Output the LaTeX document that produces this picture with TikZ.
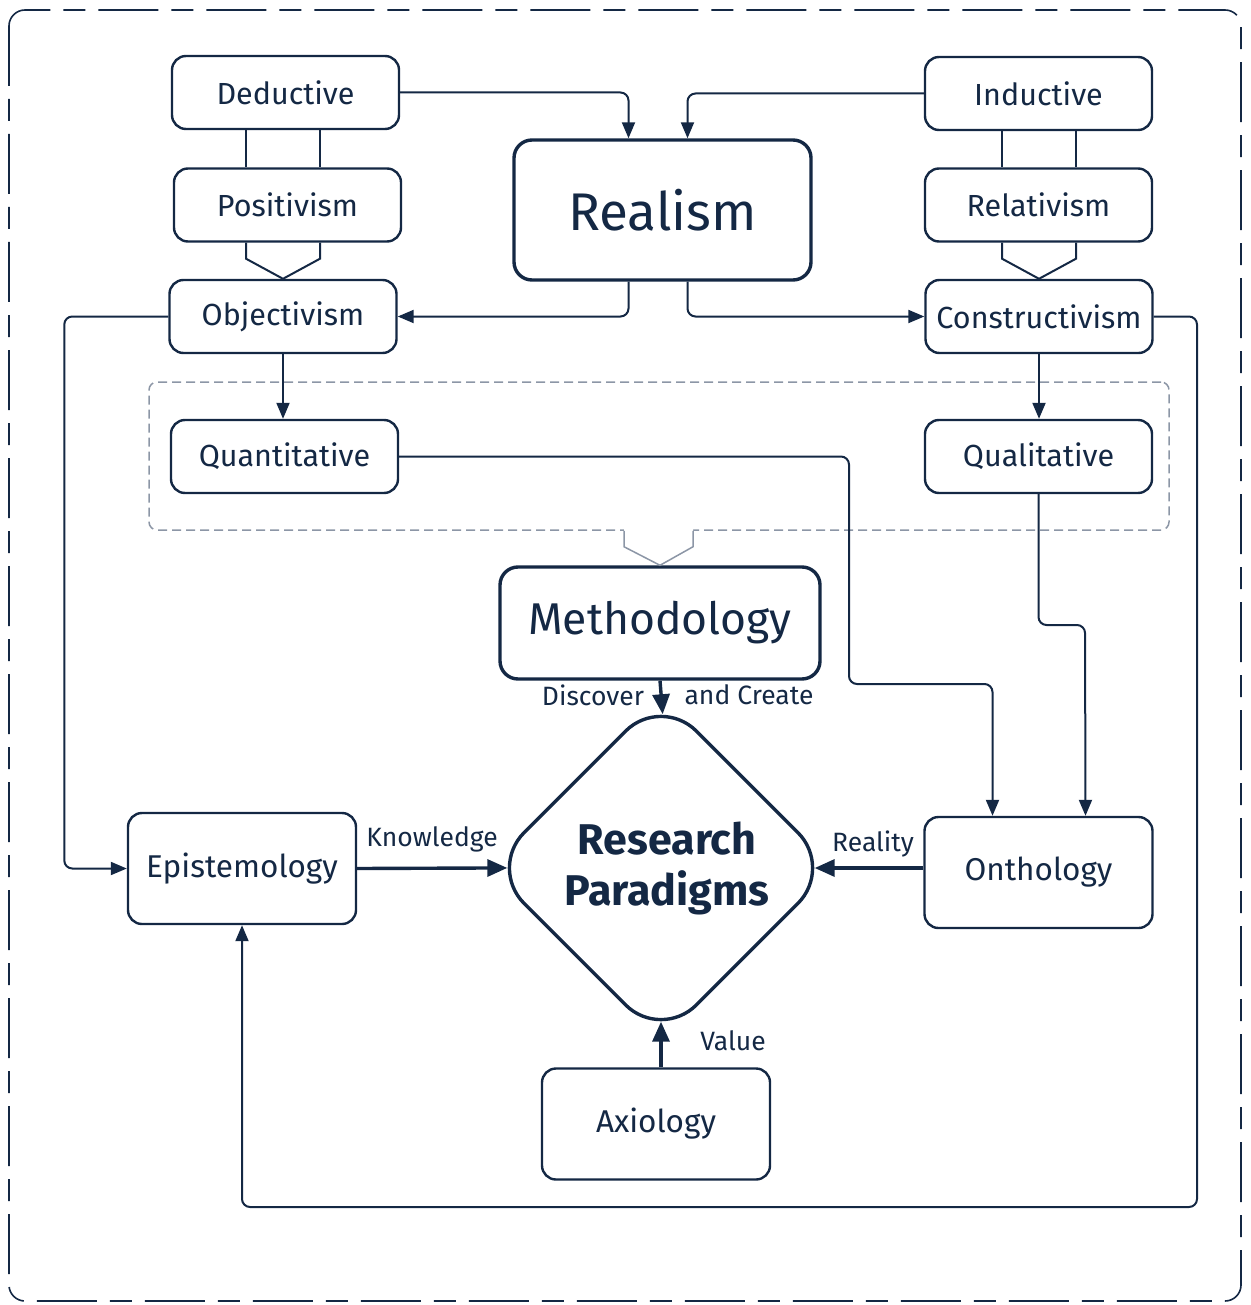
\documentclass[tikz,border=0pt]{standalone}
\usepackage{fontspec}
\setmainfont{Fira Sans}
\newfontfamily\medfont{Fira Sans}
\usetikzlibrary{arrows.meta,calc,shapes.geometric}
\definecolor{navy}{RGB}{20,40,68}
\definecolor{dashgrey}{RGB}{140,150,166}
\begin{document}
\begin{tikzpicture}[x=1pt,y=-1pt,
  box/.style={draw=navy, line width=2.4pt, rounded corners=14pt, fill=white,
    minimum width=227pt, minimum height=73pt, inner sep=0pt, text=navy,
    font=\fontsize{30.5}{36}\selectfont},
  bigbox/.style={box, line width=3.4pt, rounded corners=18pt},
  midbox/.style={box, minimum width=228pt, minimum height=111pt,
    font=\medfont\fontsize{31.5}{38}\selectfont},
  lbl/.style={text=navy, inner sep=0pt, font=\fontsize{26.5}{32}\selectfont},
  conn/.style={draw=navy, line width=2pt, rounded corners=8pt,
    -{Triangle[length=16pt,width=13pt]}},
  strong/.style={draw=navy, line width=3.4pt, shorten >=-21pt,
    -{Triangle[length=20pt,width=17pt]}},
  plain/.style={draw=navy, line width=2pt, line join=miter},
]
\useasboundingbox (0,0) rectangle (1250,1305);

% outer dashed frame
\draw[navy, line width=1.6pt, dash pattern=on 60pt off 13pt on 22pt off 13pt,
  rounded corners=16pt] (9,10) rectangle (1241,1301);

% group of the two approaches
\node[draw=dashgrey, line width=1.5pt, dash pattern=on 9pt off 5pt,
  rounded corners=8pt, minimum width=1020pt, minimum height=148pt,
  inner sep=0pt] (grp) at (659,456) {};

% nodes
\node[box] (dedu) at (285.5,92.5) {Deductive};
\node[box] (posi) at (287.5,205) {Positivism};
\node[box] (obje) at (283,316.5) {Objectivism};
\node[box] (indu) at (1038.5,93.5) {Inductive};
\node[box] (rela) at (1038.5,205) {Relativism};
\node[box] (cons) at (1039,316.5) {Constructivism};
\node[box] (quan) at (284.5,456.5) {Quantitative};
\node[box] (qual) at (1038.5,456.5) {Qualitative};
\node[bigbox, minimum width=297pt, minimum height=140pt,
  font=\medfont\fontsize{53}{60}\selectfont] (real) at (662.5,210) {Realism};
\node[bigbox, minimum width=320pt, minimum height=112pt,
  font=\medfont\fontsize{44.5}{52}\selectfont] (meth) at (660,623) {Methodology};
\node[midbox] (epis) at (242,868.5) {Epistemology};
\node[midbox] (onth) at (1038.5,872.5) {Onthology};
\node[midbox] (axio) at (656,1124) {Axiology};
\node[diamond, aspect=1, draw=navy, line width=3.4pt, rounded corners=50pt,
  minimum width=346pt, minimum height=346pt, inner sep=0pt, align=center,
  text=navy, font=\medfont\bfseries\fontsize{43}{50}\selectfont]
  (rp) at (661,868) {\hspace*{12pt}Research\\[1pt]\hspace*{12pt}Paradigms};

% paired links
\draw[plain] ($(dedu.south -| obje.north)+(-37,0)$) -- ($(posi.north -| obje.north)+(-37,0)$);
\draw[plain] ($(dedu.south -| obje.north)+(37,0)$) -- ($(posi.north -| obje.north)+(37,0)$);
\draw[plain] ($(indu.south -| cons.north)+(-37,0)$) -- ($(rela.north -| cons.north)+(-37,0)$);
\draw[plain] ($(indu.south -| cons.north)+(37,0)$) -- ($(rela.north -| cons.north)+(37,0)$);

% open chevrons
\draw[plain] ($(posi.south -| obje.north)+(-37,0)$) -- ++(0,16) -- (obje.north)
  -- ($(posi.south -| obje.north)+(37,16)$) -- ++(0,-16);
\draw[plain] ($(rela.south -| cons.north)+(-37,0)$) -- ++(0,16) -- (cons.north)
  -- ($(rela.south -| cons.north)+(37,16)$) -- ++(0,-16);
\fill[white] ($(grp.south)+(-35,-2)$) -- ++(0,18) -- (meth.north)
  -- ($(grp.south)+(34,16)$) -- ++(0,-18) -- cycle;
\draw[dashgrey, line width=1.5pt] ($(grp.south)+(-35,0)$) -- ++(0,16) -- (meth.north)
  -- ($(grp.south)+(34,16)$) -- ++(0,-16);

% connectors
\draw[conn] (dedu.east) -| ($(real.north)+(-34,0)$);
\draw[conn] (indu.west) -| ($(real.north)+(25,0)$);
\draw[conn] ($(real.south)+(-34,0)$) |- (obje.east);
\draw[conn] ($(real.south)+(25,0)$) |- (cons.west);
\draw[conn] (obje.south) -- (obje.south |- quan.north);
\draw[conn] (cons.south) -- (cons.south |- qual.north);
\draw[conn] (obje.west) -- ++(-104,0) |- (epis.west);
\draw[conn] (cons.east) -| (1197,1207) -| (epis.south);
\draw[conn] (quan.east) -| (849,684) -| ($(onth.north)+(-46,0)$);
\draw[conn] (qual.south) |- (1085,625) -- ($(onth.north)+(47,0)$);

% into the paradigms
\draw[strong] (meth.south) -- (rp.north);
\draw[strong] (epis.east) -- (rp.west);
\draw[strong] (rp.east -| onth.west) -- (rp.east);
\draw[strong] (rp.south |- axio.north) -- (rp.south);

% labels
\node[lbl] (tknow) at (432,839) {Knowledge};
\node[lbl] (treal) at (873,844) {Reality};
\node[lbl] (tvalu) at (733,1041) {Value};
\node[lbl] (tdisc) at (593,695) {Discover};
\node[lbl] (tcrea) at (749,695) {and Create};
\end{tikzpicture}
\end{document}
